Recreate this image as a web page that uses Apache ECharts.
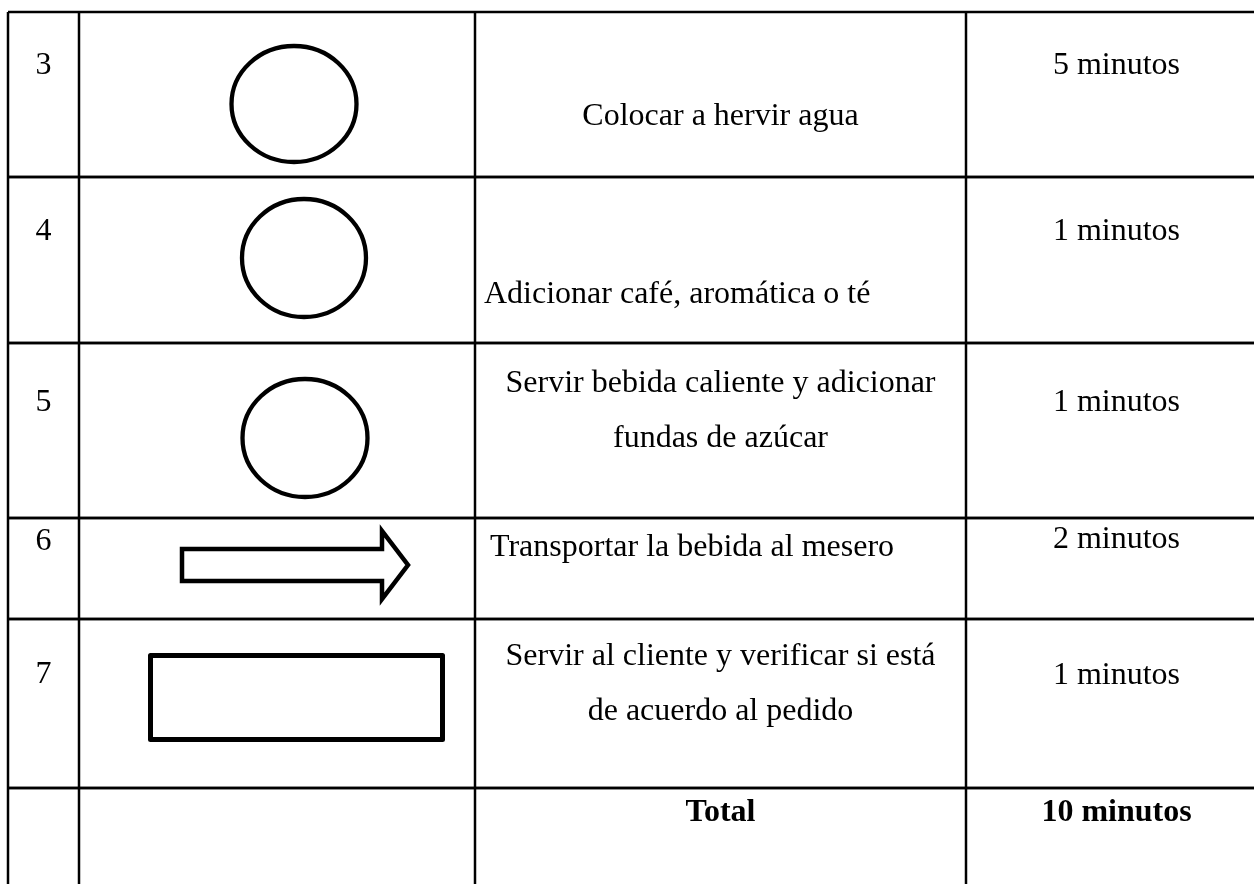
<!DOCTYPE html>
<html>
<head>
<meta charset="utf-8">
<script src="https://cdn.jsdelivr.net/npm/echarts@6/dist/echarts.min.js"></script>
<style>
  html, body { margin: 0; padding: 0; background: #ffffff; }
  #chart { width: 1254px; height: 884px; }
</style>
</head>
<body>
<div id="chart"></div>
<script>
// ---------- DATA ----------
const steps = ['3', '4', '5', '6', '7', ''];
const symbols = ['operation', 'operation', 'operation', 'transport', 'inspection', ''];
const activities = [
  'Colocar a hervir agua',
  'Adicionar café, aromática o té',
  'Servir bebida caliente y adicionar\nfundas de azúcar',
  'Transportar la bebida al mesero',
  'Servir al cliente y verificar si está\nde acuerdo al pedido',
  'Total'
];
const minutes = [5, 1, 1, 2, 1];
const unitLabel = 'minutos';
const totalMinutes = minutes.reduce((a, b) => a + b, 0);
const timeLabels = minutes.map(m => m + ' ' + unitLabel).concat([totalMinutes + ' ' + unitLabel]);

// ---------- LAYOUT (sizes / offsets, not data) ----------
const colWidths = [71, 396, 491, 301];
const rowHeights = [165, 166, 175, 101, 169, 110];
const colEdges = [0];
colWidths.forEach(w => colEdges.push(colEdges[colEdges.length - 1] + w));
const rowEdges = [0];
rowHeights.forEach(h => rowEdges.push(rowEdges[rowEdges.length - 1] + h));
const TXT_SHIFT = 2.5;
const numOffsetY = [51.5, 52, 57, 21, 53, 22];
const timeOffsetY = [51.5, 52, 57, 19.5, 54, 22];
const actOffsetY = [102, 115, 65.5, 27, 62.5, 22];
const actAlign = ['center', 'left', 'center', 'left', 'center', 'center'];
const actIndent = [0, 9, 0, 15, 0, 0];
const ellipseLayout = [
  { cx: 215, cy: 92, rx: 62.5, ry: 58 },
  { cx: 225, cy: 81, rx: 62, ry: 59 },
  { cx: 226, cy: 95, rx: 62.5, ry: 59 }
];
const arrowPts = [[103, 31], [303, 31], [303, 13], [329, 47], [303, 81], [303, 63], [103, 63]];
const rectLayout = { x: 71.5, y: 36.5, width: 292, height: 84 };

const FONT = '"Liberation Serif", "Times New Roman", serif';
const FS = 32;

const chart = echarts.init(document.getElementById('chart'), null, { renderer: 'canvas' });

function renderRow(params, api) {
  const i = api.value(0);
  const X = c => api.coord([colEdges[c], 0])[0];
  const yTop = api.coord([0, rowEdges[i]])[1];
  const yBot = api.coord([0, rowEdges[i + 1]])[1];
  const xs = colEdges.map((_, c) => X(c));
  const lineStyle = { stroke: '#000', lineWidth: 2.5 };
  const children = [];
  // borders
  children.push({ type: 'line', shape: { x1: xs[0], y1: yTop, x2: xs[4], y2: yTop }, style: lineStyle });
  children.push({ type: 'line', shape: { x1: xs[0], y1: yBot, x2: xs[4], y2: yBot }, style: lineStyle });
  xs.forEach(x => children.push({ type: 'line', shape: { x1: x, y1: yTop, x2: x, y2: yBot }, style: lineStyle }));

  const bold = i === steps.length - 1;
  const txt = (text, x, y, align, weight, lh) => ({
    type: 'text', x: x, y: y + TXT_SHIFT,
    style: {
      text: text, fill: '#000', fontFamily: FONT, fontSize: FS, fontWeight: weight,
      align: align, verticalAlign: 'middle', lineHeight: lh || 55
    }
  });
  // step number
  if (steps[i]) children.push(txt(steps[i], (xs[0] + xs[1]) / 2, yTop + numOffsetY[i], 'center', 'normal'));
  // activity
  const ax = actAlign[i] === 'center' ? (xs[2] + xs[3]) / 2 : xs[2] + actIndent[i];
  children.push(txt(activities[i], ax, yTop + actOffsetY[i], actAlign[i], bold ? 'bold' : 'normal'));
  // time
  children.push(txt(timeLabels[i], (xs[3] + xs[4]) / 2, yTop + timeOffsetY[i], 'center', bold ? 'bold' : 'normal'));

  // symbol
  const cx0 = xs[1], cy0 = yTop;
  const sym = symbols[i];
  const shapeStyle = { stroke: '#000', fill: 'none', lineWidth: 4.3 };
  if (sym === 'operation') {
    const e = ellipseLayout[i];
    children.push({ type: 'ellipse', shape: { cx: cx0 + e.cx, cy: cy0 + e.cy, rx: e.rx, ry: e.ry }, style: shapeStyle });
  } else if (sym === 'transport') {
    children.push({
      type: 'polygon',
      shape: { points: arrowPts.map(p => [cx0 + p[0], cy0 + p[1]]) },
      style: { stroke: '#000', fill: 'none', lineWidth: 4.5, lineJoin: 'miter' }
    });
  } else if (sym === 'inspection') {
    children.push({
      type: 'rect',
      shape: { x: cx0 + rectLayout.x, y: cy0 + rectLayout.y, width: rectLayout.width, height: rectLayout.height },
      style: { stroke: '#000', fill: 'none', lineWidth: 5, lineJoin: 'round' }
    });
  }
  return { type: 'group', children: children };
}

const totalW = colEdges[colEdges.length - 1];
const totalH = rowEdges[rowEdges.length - 1];

chart.setOption({
  backgroundColor: '#ffffff',
  animation: false,
  grid: { left: 8, top: 12, width: totalW, height: totalH, outerBoundsMode: 'none', containLabel: false },
  xAxis: { type: 'value', min: 0, max: totalW, show: false },
  yAxis: { type: 'value', min: 0, max: totalH, inverse: true, show: false },
  series: [{
    type: 'custom',
    renderItem: renderRow,
    clip: false,
    encode: { x: -1, y: -1 },
    data: steps.map((_, i) => [i])
  }]
});
</script>
</body>
</html>
